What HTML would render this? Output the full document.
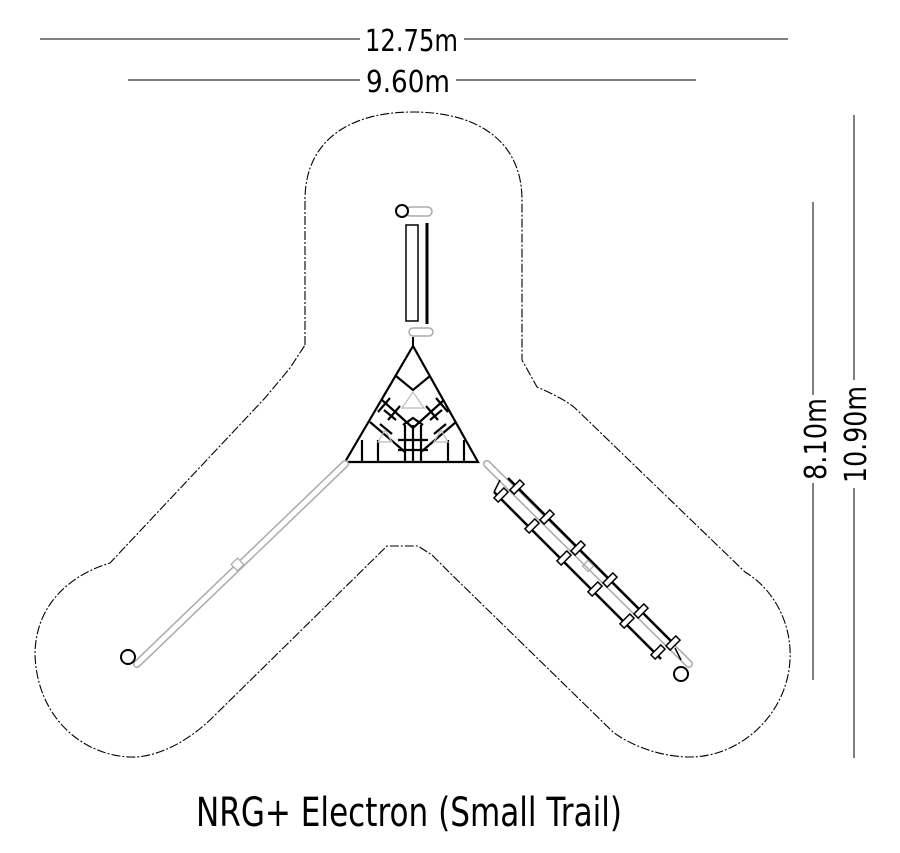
<!DOCTYPE html>
<html><head><meta charset="utf-8"><style>html,body{margin:0;padding:0;background:#fff}svg{display:block}.t{font-family:"DejaVu Sans","Liberation Sans",sans-serif;font-weight:400}</style></head>
<body>
<svg width="900" height="853" viewBox="0 0 900 853" xmlns="http://www.w3.org/2000/svg">
<g stroke="#000" stroke-width="1">
<line x1="40" y1="39" x2="360" y2="39"/><line x1="464" y1="39" x2="788" y2="39"/>
<line x1="128" y1="80" x2="360" y2="80"/><line x1="456" y1="80" x2="696" y2="80"/>
<line x1="813" y1="202" x2="813" y2="395"/><line x1="813" y1="483" x2="813" y2="680"/>
<line x1="854" y1="115" x2="854" y2="380"/><line x1="854" y1="488" x2="854" y2="758"/>
</g>
<g font-size="30" fill="#000" class="t">
<text x="365" y="51" textLength="93" lengthAdjust="spacingAndGlyphs">12.75m</text>
<text x="366" y="92" textLength="84" lengthAdjust="spacingAndGlyphs">9.60m</text>
<text transform="translate(826,480) rotate(-90)" textLength="82" lengthAdjust="spacingAndGlyphs">8.10m</text>
<text transform="translate(866,483) rotate(-90)" textLength="97" lengthAdjust="spacingAndGlyphs">10.90m</text>
</g>
<path d="M305,345 L305,200 C305,140 350,112 413,112 C476,112 522,140 522,200 L522,360 L537,387 C555,395 565,400 575,408 L745,572 C775,590 792,625 790,660 C787,715 740,757 690,757 C660,757 630,745 613,732 L450,573 L432,555 L418,546 L387,546 L210,720 C180,748 150,758 130,757 C80,755 37,715 35,655 C35,605 70,575 110,563 L265,398 L290,368 Z" fill="none" stroke="#000" stroke-width="1.1" stroke-dasharray="9,2,2,2"/>
<rect x="406" y="207" width="26" height="9" rx="4.5" fill="none" stroke="#aaa" stroke-width="1.5"/>
<circle cx="402" cy="211" r="6" fill="#fff" stroke="#000" stroke-width="2"/>
<rect x="406" y="225" width="12" height="96" fill="none" stroke="#000" stroke-width="1.5"/>
<line x1="427" y1="223" x2="427" y2="324" stroke="#000" stroke-width="3"/>
<rect x="409" y="328" width="24" height="8" rx="4" fill="none" stroke="#aaa" stroke-width="1.5"/>
<line x1="413" y1="337" x2="413" y2="346" stroke="#000" stroke-width="2"/>
<g stroke="#000" stroke-width="2.2" fill="none">
<path d="M413,346 L345,462 L478,462 Z"/>
<path d="M396,376 L413,390 L430,376"/>
<path d="M382,400 L413,428 L444,400"/>
<path d="M370,422 L405,452"/><path d="M456,422 L421,452"/>
<path d="M390,398 L378,412 M400,406 L388,420 M436,398 L448,412 M426,406 L438,420"/>
<path d="M384,410 L396,420 M442,410 L430,420"/>
<path d="M380,424 L392,434 M446,424 L434,434"/>
<line x1="362" y1="440" x2="362" y2="462"/><line x1="378" y1="440" x2="378" y2="462"/>
<line x1="448" y1="440" x2="448" y2="462"/><line x1="464" y1="440" x2="464" y2="462"/>
<line x1="405" y1="425" x2="405" y2="462"/><line x1="413" y1="425" x2="413" y2="462"/><line x1="421" y1="425" x2="421" y2="462"/>
<line x1="398" y1="440" x2="428" y2="440"/><line x1="398" y1="450" x2="428" y2="450"/>
<path d="M403,425 L413,418 L423,425"/>
</g>
<g stroke="#bbb" stroke-width="1.2" fill="none">
<path d="M413,392 L402,408 L424,408 Z"/><path d="M385,430 L378,442 L392,442 Z"/><path d="M441,430 L434,442 L448,442 Z"/>
</g>
<line x1="345" y1="464" x2="137" y2="664" stroke="#aaa" stroke-width="8" stroke-linecap="round"/>
<line x1="345" y1="464" x2="137" y2="664" stroke="#fff" stroke-width="5" stroke-linecap="round"/>
<rect x="233" y="560" width="9" height="9" fill="#fff" stroke="#aaa" stroke-width="1.2" transform="rotate(45 237.5 564.5)"/>
<circle cx="128" cy="657" r="7" fill="#fff" stroke="#000" stroke-width="2"/>
<line x1="487" y1="464" x2="689" y2="664" stroke="#aaa" stroke-width="8" stroke-linecap="round"/>
<line x1="487" y1="464" x2="689" y2="664" stroke="#fff" stroke-width="5" stroke-linecap="round"/>
<g stroke="#000" stroke-width="2.5">
<line x1="508" y1="478" x2="675" y2="645"/><line x1="494" y1="492" x2="661" y2="659"/>
<line x1="500" y1="480" x2="494" y2="492" stroke-width="1.5"/><line x1="681" y1="660" x2="675" y2="648" stroke-width="1.5"/>
</g>
<g fill="#fff" stroke="#000" stroke-width="1.5">
<g transform="translate(517,487) rotate(-45)"><rect x="-7" y="-3" width="14" height="6"/></g>
<g transform="translate(547,517) rotate(-45)"><rect x="-7" y="-3" width="14" height="6"/></g>
<g transform="translate(578,548) rotate(-45)"><rect x="-7" y="-3" width="14" height="6"/></g>
<g transform="translate(610,580) rotate(-45)"><rect x="-7" y="-3" width="14" height="6"/></g>
<g transform="translate(641,611) rotate(-45)"><rect x="-7" y="-3" width="14" height="6"/></g>
<g transform="translate(673,643) rotate(-45)"><rect x="-7" y="-3" width="14" height="6"/></g>
<g transform="translate(501,495) rotate(-45)"><rect x="-7" y="-3" width="14" height="6"/></g>
<g transform="translate(532,526) rotate(-45)"><rect x="-7" y="-3" width="14" height="6"/></g>
<g transform="translate(564,558) rotate(-45)"><rect x="-7" y="-3" width="14" height="6"/></g>
<g transform="translate(595,589) rotate(-45)"><rect x="-7" y="-3" width="14" height="6"/></g>
<g transform="translate(627,621) rotate(-45)"><rect x="-7" y="-3" width="14" height="6"/></g>
<g transform="translate(658,652) rotate(-45)"><rect x="-7" y="-3" width="14" height="6"/></g>
</g>
<rect x="584" y="562" width="8" height="8" fill="none" stroke="#aaa" stroke-width="1.2" transform="rotate(45 588 566)"/>
<circle cx="681" cy="674" r="7" fill="#fff" stroke="#000" stroke-width="2"/>
<text class="t" x="196" y="826" font-size="40" fill="#000" textLength="426" lengthAdjust="spacingAndGlyphs">NRG+ Electron (Small Trail)</text>
</svg>
</body></html>
